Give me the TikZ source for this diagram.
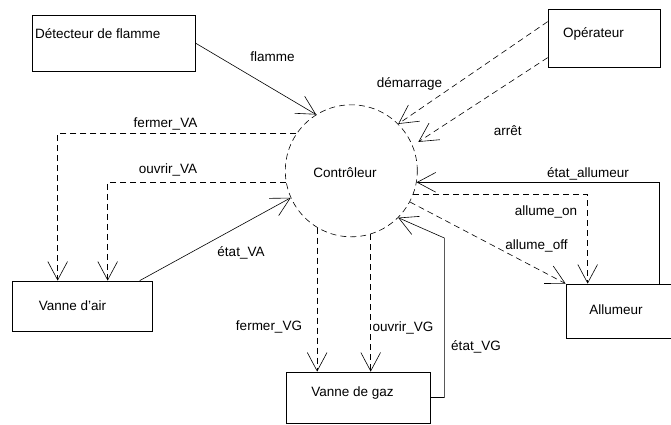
\documentclass[tikz,border=0pt]{standalone}
\usepackage{fontspec}
\setmainfont{Liberation Sans}
\usetikzlibrary{arrows.meta,calc}
\begin{document}
\begin{tikzpicture}[x=1pt,y=-1pt,
  font=\fontsize{13.5}{16}\selectfont,
  box/.style={draw, line width=0.7pt, rectangle, inner sep=0pt},
  sig/.style={line width=0.6pt, -{Straight Barb[length=18.5pt,width=19.7pt]}},
  dsig/.style={sig, dash pattern=on 6pt off 4pt},
  lbl/.style={anchor=base, inner sep=0pt}]
\useasboundingbox (0,0) rectangle (671,424);
\clip (0,0) rectangle (671,424);
% boxes
\node[box, minimum width=163pt, minimum height=56pt] (det) at (113.5,43) {};
\node[lbl, anchor=base west] (detT) at (35,38) {Détecteur de flamme};
\node[box, minimum width=112pt, minimum height=58pt] (op) at (604,38) {};
\node[lbl, anchor=base west] (opT) at (563,37.5) {Opérateur};
\node[box, minimum width=140pt, minimum height=50pt] (vair) at (82,306) {};
\node[lbl] (vairT) at (72.5,310) {Vanne d’air};
\node[box, minimum width=144pt, minimum height=51pt] (vgaz) at (358,397.5) {};
\node[lbl] (vgazT) at (352.5,396) {Vanne de gaz};
\node[box, minimum width=114pt, minimum height=54pt] (allum) at (623,311) {};
\node[lbl] (allumT) at (616,314.3) {Allumeur};
% controller
\node[draw, circle, dash pattern=on 6pt off 4pt, line width=0.6pt, minimum size=132pt, inner sep=0pt] (ctrl) at (351.3,170.8) {};
\node[lbl] (ctrlT) at (345,177.3) {Contrôleur};
% connectors
\draw[sig] (det.east) -- (ctrl.122.5);
\draw[dsig] ($(op.north west)+(0,13)$) -- (ctrl.45);
\draw[dsig] ($(op.north west)+(0,49)$) -- ($(ctrl.23)+(6,-3)$);
\draw[dsig] (ctrl.146.6) -| ($(vair.north west)+(46,0)$);
\draw[dsig] (ctrl.190.7) -| ($(vair.north west)+(96,0)$);
\draw[sig] ($(vair.north west)+(128,0)$) -- (ctrl.204.2);
\draw[dsig] (ctrl.239) -- (ctrl.239 |- vgaz.north);
\draw[dsig] (ctrl.287) -- (ctrl.287 |- vgaz.north);
\draw[sig] (vgaz.east) -- ++(14,0) -- ++(0,-159.5) -- (ctrl.-45.3);
\draw[sig] ($(allum.north west)+(94,0)$) |- (ctrl.-10.4);
\draw[dsig] (ctrl.-21.3) -| ($(allum.north west)+(22,0)$);
\draw[dsig] (ctrl.-28.3) -- (allum.north west);
% labels
\node[lbl] (l1) at (272.5,61) {flamme};
\node[lbl] (l2) at (409.5,87.7) {démarrage};
\node[lbl] (l3) at (507.7,135) {arrêt};
\node[lbl] (l4) at (165.5,127.3) {fermer\_VA};
\node[lbl] (l5) at (168,173.3) {ouvrir\_VA};
\node[lbl] (l6) at (241,256) {état\_VA};
\node[lbl] (l7) at (269,330) {fermer\_VG};
\node[lbl] (l8) at (403,331) {ouvrir\_VG};
\node[lbl] (l9) at (476,350.7) {état\_VG};
\node[lbl] (l10) at (588,177) {état\_allumeur};
\node[lbl] (l11) at (546,215) {allume\_on};
\node[lbl] (l12) at (536.5,249.3) {allume\_off};
\end{tikzpicture}
\end{document}
